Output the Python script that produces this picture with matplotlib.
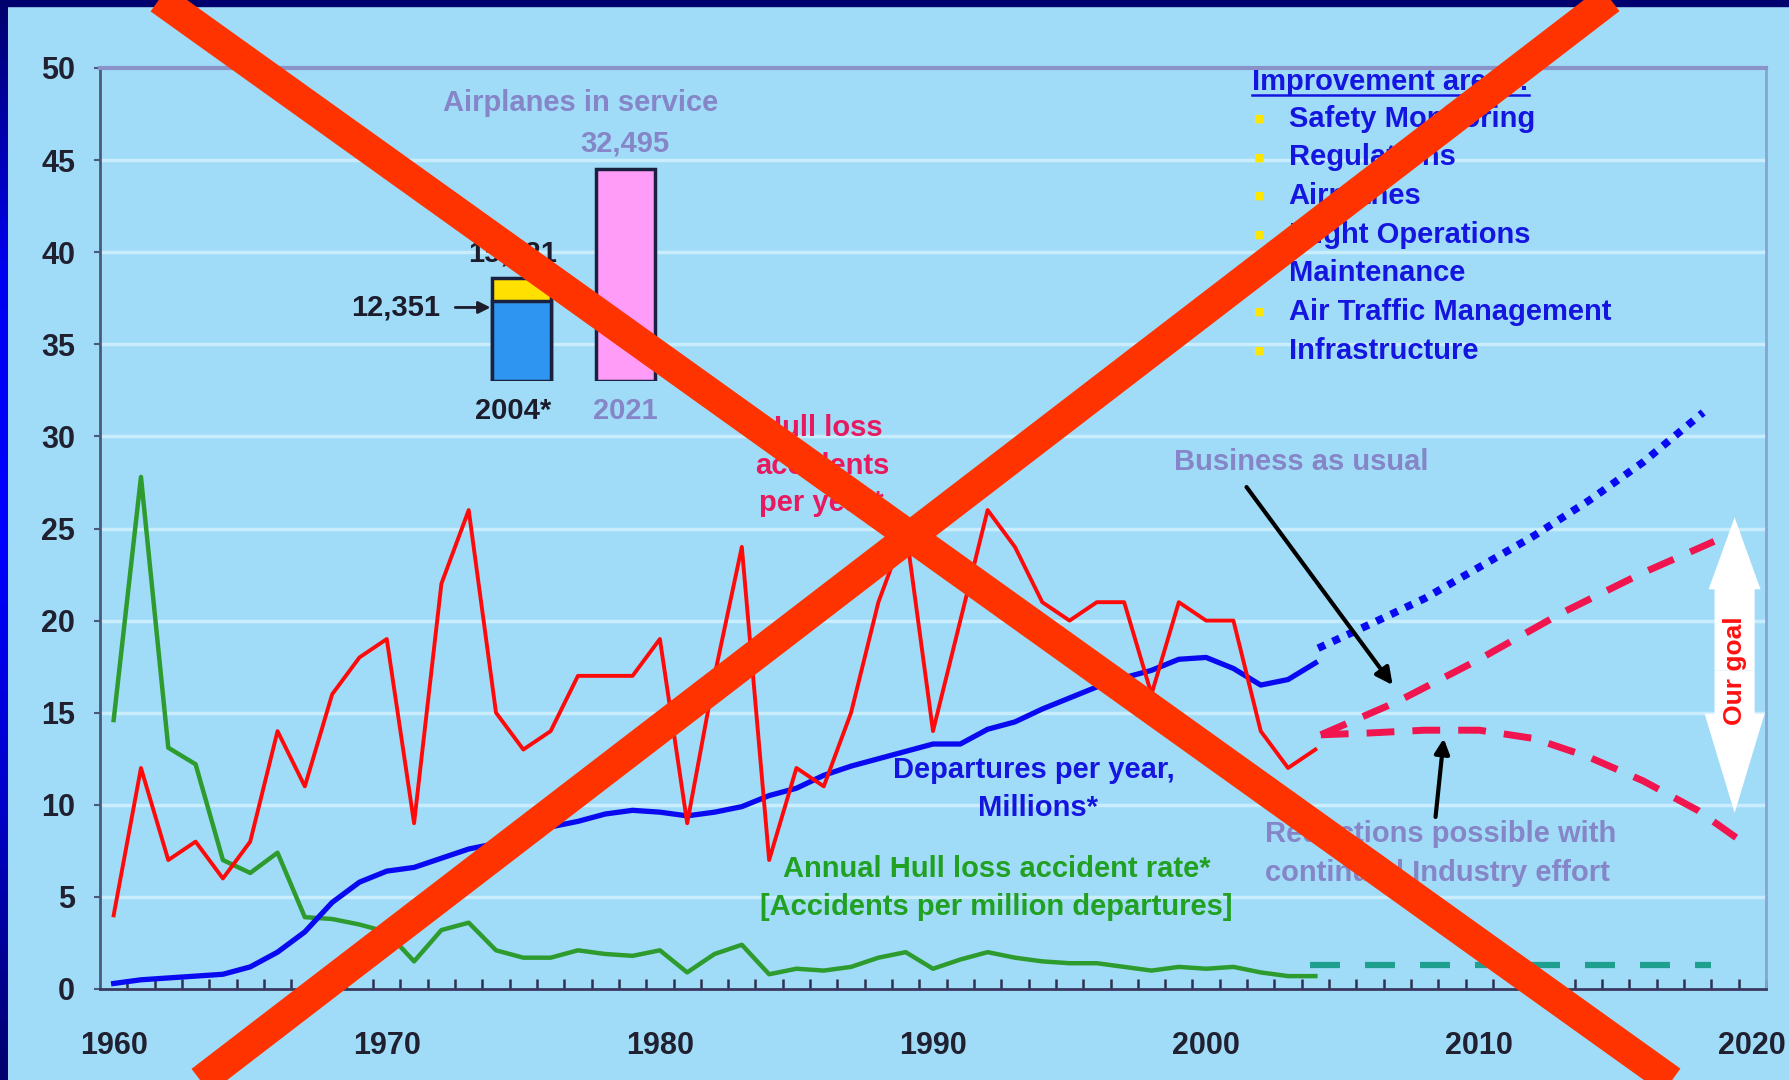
import numpy as np
import matplotlib
matplotlib.use("Agg")
import matplotlib.pyplot as plt
import matplotlib.patches as mpatches
from matplotlib.lines import Line2D
from matplotlib.colors import LinearSegmentedColormap

plt.rcParams['font.family'] = ['Liberation Sans', 'DejaVu Sans']
plt.rcParams['font.weight'] = 'bold'

# ---- data ----
years = list(range(1960, 2005))
hull_losses = [4, 12, 7, 8, 6, 8, 14, 11, 16, 18,
               19, 9, 22, 26, 15, 13, 14, 17, 17, 17,
               19, 9, 17, 24, 7, 12, 11, 15, 21, 25,
               14, 20, 26, 24, 21, 20, 21, 21, 16, 21,
               20, 20, 14, 12, 13]
departures = [0.3, 0.5, 0.6, 0.7, 0.8, 1.2, 2.0, 3.1, 4.7, 5.8,
              6.4, 6.6, 7.1, 7.6, 7.9, 8.3, 8.8, 9.1, 9.5, 9.7,
              9.6, 9.4, 9.6, 9.9, 10.5, 10.9, 11.6, 12.1, 12.5, 12.9,
              13.3, 13.3, 14.1, 14.5, 15.2, 15.8, 16.4, 16.9, 17.3, 17.9,
              18.0, 17.4, 16.5, 16.8, 17.7]
accident_rate = [14.6, 27.8, 13.1, 12.2, 7.0, 6.3, 7.4, 3.9, 3.8, 3.5,
                 3.1, 1.5, 3.2, 3.6, 2.1, 1.7, 1.7, 2.1, 1.9, 1.8,
                 2.1, 0.9, 1.9, 2.4, 0.8, 1.1, 1.0, 1.2, 1.7, 2.0,
                 1.1, 1.6, 2.0, 1.7, 1.5, 1.4, 1.4, 1.2, 1.0, 1.2,
                 1.1, 1.2, 0.9, 0.7, 0.7]

# projections
bau_dep_years = [2004.1, 2006, 2008, 2010, 2012, 2014, 2016, 2018.2]
bau_dep = [18.5, 19.8, 21.2, 22.9, 24.6, 26.5, 28.6, 31.3]
bau_hull_years = [2004.2, 2007, 2010, 2013, 2016, 2018.6]
bau_hull = [13.8, 15.6, 17.9, 20.4, 22.6, 24.3]
goal_hull_years = [2004.2, 2006, 2008, 2010, 2012, 2014, 2016, 2018, 2019.9]
goal_hull = [13.8, 13.9, 14.05, 14.05, 13.6, 12.6, 11.3, 9.7, 7.7]
goal_rate_years = [2003.8, 2018.5]
goal_rate = [1.3, 1.3]

# airplanes in service
fleet_labels = ['2004*', '2021']
fleet_boeing = [12351, 0]
fleet_total = [15821, 32495]

improvement_areas = ['Safety Monitoring', 'Regulations', 'Airplanes',
                     'Flight Operations', 'Maintenance',
                     'Air Traffic Management', 'Infrastructure']

# ---- colours ----
BG = '#A0DCF8'
NAVY = '#00006E'
LAV = '#8585C8'
BLUE_TXT = '#1515E0'
CRIMSON = '#F0154E'
GREEN = '#2E9B2E'
DARK = '#1C1C2C'
FS = 21

W, H = 1789, 1080
fig = plt.figure(figsize=(W / 100, H / 100), dpi=100, facecolor=BG)
ax = fig.add_axes([100 / W, 1 - 989 / H, 1666 / W, 921 / H])
ax.set_facecolor(BG)

ax.set_xlim(1959.5, 2020.5)
ax.set_ylim(0, 50)

# grid
for g in range(5, 50, 5):
    ax.axhline(g, color='#C9EDFC', lw=2.5, zorder=1)

# history lines
ax.plot(years, accident_rate, color=GREEN, lw=3.2, zorder=3)
ax.plot(years, departures, color='#0A0AF0', lw=3.8, zorder=3)
ax.plot(years, hull_losses, color='#FF0A0A', lw=2.8, zorder=4)

# projections
ax.plot(bau_dep_years, bau_dep, color='#0A0AF0', lw=5.5,
        linestyle=(0, (1, 1.1)), zorder=3)
ax.plot(bau_hull_years, bau_hull, color=CRIMSON, lw=5,
        linestyle=(0, (4, 2.6)), zorder=3)
ax.plot(goal_hull_years, goal_hull, color=CRIMSON, lw=5,
        linestyle=(0, (4, 2.6)), zorder=3)
ax.plot(goal_rate_years, goal_rate, color='#1FA08E', lw=4.5,
        linestyle=(0, (4.8, 4)), zorder=3)

# spines and ticks
ax.spines['left'].set_color('#4A5A78')
ax.spines['left'].set_linewidth(2)
ax.spines['bottom'].set_color('#3A3A60')
ax.spines['bottom'].set_linewidth(2)
ax.spines['top'].set_color('#8A92C8')
ax.spines['top'].set_linewidth(3)
ax.spines['right'].set_color('#86A4D0')
ax.spines['right'].set_linewidth(2)

ax.set_xticks(range(1960, 2021, 10))
ax.set_xticks(np.arange(1960.5, 2020.6, 1), minor=True)
ax.tick_params(axis='x', which='major', length=0, pad=30,
               labelsize=22, labelcolor='#202030')
ax.tick_params(axis='x', which='minor', direction='in', length=7,
               width=1.8, color='#303050')
ax.set_yticks(range(0, 51, 5))
ax.tick_params(axis='y', which='major', direction='out', length=4,
               width=1.5, color='#4A5A78', pad=14, labelsize=22,
               labelcolor='#202030')
for lab in ax.get_xticklabels() + ax.get_yticklabels():
    lab.set_fontweight('bold')

# ---- airplanes in service inset ----
ins = ax.inset_axes([1973.5, 33, 7, 17], transform=ax.transData, zorder=5)
ins.patch.set_visible(False)
ins.set_axis_off()
ins.set_xlim(1973.5, 1980.5)
ins.set_ylim(0, 48036)
bar_x = [1974.92, 1978.73]
ins.bar(bar_x, fleet_total, width=2.15, color=['#FFE000', '#FF9CF8'],
        edgecolor='#1A2040', linewidth=2.5)
ins.bar(bar_x[:1], fleet_boeing[:1], width=2.15, color='#2E96F0',
        edgecolor='#1A2040', linewidth=2.5)

ax.text(1977.08, 48.1, 'Airplanes in service', color=LAV, fontsize=FS,
        ha='center', va='center', zorder=6)
ax.text(bar_x[1], 45.9, f'{fleet_total[1]:,}', color=LAV, fontsize=FS,
        ha='center', va='center', zorder=6)
ax.text(bar_x[0] - 0.3, 39.95, f'{fleet_total[0]:,}', color=DARK, fontsize=FS,
        ha='center', va='center', zorder=6)
ax.annotate(f'{fleet_boeing[0]:,}', xy=(1973.8, 37.0), xytext=(1971.95, 37.0),
            ha='right', va='center', color=DARK, fontsize=FS, zorder=6,
            arrowprops=dict(arrowstyle='-|>', color=DARK, lw=2,
                            mutation_scale=18, shrinkA=9, shrinkB=0))
ax.text(bar_x[0] - 0.3, 31.4, fleet_labels[0], color=DARK, fontsize=FS,
        ha='center', va='center', zorder=6)
ax.text(bar_x[1], 31.4, fleet_labels[1], color=LAV, fontsize=FS,
        ha='center', va='center', zorder=6)

# ---- series labels ----
for txt, yy in zip(['Hull loss', 'accidents', 'per year*'], [30.46, 28.4, 26.4]):
    ax.text(1985.93, yy, txt, color='#E8195E', fontsize=FS,
            ha='center', va='center', zorder=6)
ax.text(1993.68, 11.9, 'Departures per year,', color=BLUE_TXT, fontsize=FS,
        ha='center', va='center', zorder=6)
ax.text(1993.86, 9.8, 'Millions*', color=BLUE_TXT, fontsize=FS,
        ha='center', va='center', zorder=6)
ax.text(1992.32, 6.49, 'Annual Hull loss accident rate*', color='#22A022',
        fontsize=FS, ha='center', va='center', zorder=6)
ax.text(1992.32, 4.45, '[Accidents per million departures]', color='#22A022',
        fontsize=FS, ha='center', va='center', zorder=6)

ax.text(2003.48, 28.6, 'Business as usual', color=LAV, fontsize=FS,
        ha='center', va='center', zorder=6)
ax.annotate('', xy=(2006.83, 16.5), xytext=(2001.48, 27.25), zorder=6,
            arrowprops=dict(arrowstyle='-|>', color='black', lw=3,
                            mutation_scale=25, shrinkA=0, shrinkB=0))
ax.text(2002.14, 8.41, 'Reductions possible with', color=LAV, fontsize=FS,
        ha='left', va='center', zorder=6)
ax.text(2002.14, 6.3, 'continued Industry effort', color=LAV, fontsize=FS,
        ha='left', va='center', zorder=6)
ax.annotate('', xy=(2008.7, 13.6), xytext=(2008.4, 9.34), zorder=6,
            arrowprops=dict(arrowstyle='-|>', color='black', lw=3,
                            mutation_scale=22, shrinkA=0, shrinkB=0))

# ---- improvement areas ----
head = ax.text(2001.68, 49.24, 'Improvement areas:', color=BLUE_TXT,
               fontsize=FS, ha='left', va='center', zorder=6)
for i, item in enumerate(improvement_areas):
    yy = 47.25 - 2.1 * i
    ax.text(2001.94, yy, '\u25a0', color='#FFE600', fontsize=8,
            ha='center', va='center', zorder=6, family='DejaVu Sans')
    ax.text(2003.02, yy, item, color=BLUE_TXT, fontsize=FS,
            ha='left', va='center', zorder=6)

# ---- our goal arrow ----
gx = 2019.35
up = mpatches.FancyArrow(gx, 17.3, 0, 8.3, width=1.47, head_width=1.9,
                         head_length=3.9, length_includes_head=True,
                         color='white', lw=0, zorder=5)
down = mpatches.FancyArrow(gx, 17.3, 0, -7.75, width=1.47, head_width=2.2,
                           head_length=5.4, length_includes_head=True,
                           color='white', lw=0, zorder=5)
ax.add_patch(up)
ax.add_patch(down)
ax.text(gx, 17.3, 'Our goal', color='#FF1010', fontsize=19, rotation=90,
        ha='center', va='center', zorder=6)

# underline heading
fig.canvas.draw()
bb = head.get_window_extent().transformed(fig.transFigure.inverted())
fig.add_artist(Line2D([bb.x0, bb.x1], [bb.y0 + 0.001, bb.y0 + 0.001],
                      transform=fig.transFigure, color=BLUE_TXT, lw=1.8))

# ---- frame ----
fig.add_artist(mpatches.Rectangle((0, 1 - 6 / H), 1, 6 / H,
                                  transform=fig.transFigure, color=NAVY,
                                  zorder=50))
edge = fig.add_axes([0, 0, 8 / W, 1])
cmap = LinearSegmentedColormap.from_list('edge', [NAVY, '#0000F0', '#0000FF',
                                                  '#0000C8', NAVY])
edge.imshow(np.linspace(0, 1, 200).reshape(-1, 1), cmap=cmap, aspect='auto')
edge.set_axis_off()

# ---- the big red cross ----
for (xa, ya), (xb, yb) in [((91, -50), (1740, 1130)), ((1674, -50), (137, 1130))]:
    fig.add_artist(Line2D([xa / W, xb / W], [1 - ya / H, 1 - yb / H],
                          transform=fig.transFigure, color='#FF3300',
                          lw=22, solid_capstyle='butt', zorder=100))

fig.savefig('out.png', dpi=100, facecolor=BG)
